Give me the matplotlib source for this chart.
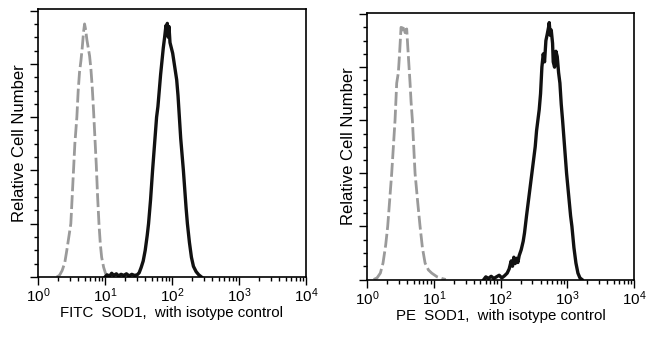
import numpy as np
import matplotlib
matplotlib.use("Agg")
import matplotlib.pyplot as plt
from matplotlib.ticker import MultipleLocator, LogLocator, NullFormatter

plt.rcParams['font.family'] = ['Liberation Sans', 'DejaVu Sans']
plt.rcParams['mathtext.fontset'] = 'custom'
plt.rcParams['mathtext.rm'] = 'Liberation Sans'
plt.rcParams['mathtext.it'] = 'Liberation Sans:italic'

# ---- data (log10 fluorescence, relative cell number) ----
fitc_iso_log = [0.28, 0.32, 0.36, 0.40, 0.43, 0.46, 0.49, 0.51, 0.53, 0.55, 0.58, 0.60, 0.62, 0.64,
                0.66, 0.68, 0.695, 0.71, 0.73, 0.75, 0.77, 0.79, 0.81, 0.83, 0.85, 0.87, 0.89, 0.91,
                0.93, 0.95, 0.98, 1.01, 1.05]
fitc_iso_val = [0.00, 0.03, 0.12, 0.27, 0.50, 0.75, 1.00, 1.50, 2.00, 2.50, 3.00, 3.50, 3.85, 4.05,
                4.30, 4.60, 4.75, 4.65, 4.45, 4.30, 4.15, 3.90, 3.55, 3.10, 2.60, 2.10, 1.50, 1.00,
                0.62, 0.37, 0.18, 0.06, 0.00]

fitc_sod1_log = [1.00, 1.03, 1.07, 1.10, 1.13, 1.17, 1.20, 1.24, 1.28, 1.32, 1.36, 1.40, 1.44, 1.48,
                 1.51, 1.54, 1.57, 1.60, 1.63, 1.65, 1.68, 1.71, 1.74, 1.77, 1.79, 1.81, 1.83, 1.85,
                 1.87, 1.89, 1.91, 1.92, 1.93, 1.945, 1.955, 1.97, 1.99, 2.01, 2.04, 2.07, 2.09, 2.11,
                 2.13, 2.15, 2.17, 2.19, 2.21, 2.23, 2.26, 2.29, 2.32, 2.36, 2.40, 2.44]
fitc_sod1_val = [0.00, 0.04, 0.02, 0.07, 0.03, 0.06, 0.02, 0.05, 0.03, 0.06, 0.02, 0.05, 0.03, 0.04,
                 0.08, 0.18, 0.30, 0.50, 0.78, 1.00, 1.45, 2.00, 2.50, 3.00, 3.20, 3.50, 3.80, 4.05,
                 4.30, 4.50, 4.72, 4.55, 4.76, 4.50, 4.70, 4.40, 4.30, 4.20, 3.95, 3.70, 3.40, 3.00,
                 2.60, 2.30, 2.00, 1.65, 1.30, 1.00, 0.65, 0.37, 0.20, 0.10, 0.04, 0.00]

pe_iso_log = [0.10, 0.15, 0.20, 0.24, 0.28, 0.31, 0.34, 0.37, 0.40, 0.42, 0.445, 0.47, 0.49, 0.51,
              0.53, 0.55, 0.57, 0.595, 0.61, 0.63, 0.645, 0.66, 0.68, 0.70, 0.72, 0.76, 0.795, 0.83,
              0.87, 0.92, 0.97, 1.05, 1.12, 1.18]
pe_iso_val = [0.00, 0.03, 0.12, 0.31, 0.65, 1.00, 1.50, 2.00, 2.60, 3.00, 3.70, 3.90, 4.30, 4.75,
              4.70, 4.78, 4.65, 4.72, 4.40, 4.00, 3.70, 3.35, 3.00, 2.50, 2.00, 1.45, 1.00, 0.60,
              0.31, 0.18, 0.12, 0.05, 0.02, 0.00]

pe_sod1_log = [1.75, 1.78, 1.82, 1.86, 1.90, 1.94, 1.98, 2.02, 2.06, 2.10, 2.13, 2.16, 2.18, 2.20,
               2.22, 2.24, 2.26, 2.28, 2.31, 2.34, 2.36, 2.39, 2.42, 2.45, 2.47, 2.50, 2.52, 2.54,
               2.56, 2.58, 2.60, 2.62, 2.64, 2.66, 2.68, 2.70, 2.72, 2.73, 2.745, 2.76, 2.78, 2.79,
               2.81, 2.83, 2.85, 2.87, 2.89, 2.91, 2.93, 2.96, 2.99, 3.02, 3.05, 3.07, 3.10, 3.13,
               3.16, 3.19, 3.22]
pe_sod1_val = [0.00, 0.05, 0.02, 0.06, 0.02, 0.05, 0.08, 0.03, 0.07, 0.12, 0.20, 0.35, 0.25, 0.42,
               0.30, 0.40, 0.32, 0.45, 0.56, 0.72, 0.88, 1.20, 1.50, 1.80, 2.00, 2.30, 2.50, 2.80,
               3.00, 3.20, 3.50, 4.00, 4.25, 4.10, 4.50, 4.62, 4.75, 4.84, 4.60, 4.70, 4.45, 4.10,
               4.00, 4.30, 4.20, 3.90, 3.70, 3.30, 3.00, 2.50, 2.00, 1.60, 1.20, 1.00, 0.60, 0.31,
               0.12, 0.03, 0.00]

x_labels = ["FITC  SOD1,  with isotype control", "PE  SOD1,  with isotype control"]
y_label = "Relative Cell Number"

fig = plt.figure(figsize=(6.5, 3.37), dpi=100)
ax1 = fig.add_axes([38/650, 1-277/337, 268/650, 268/337])
ax2 = fig.add_axes([367/650, 1-279.5/337, 267/650, 267/337])

panels = [(ax1, fitc_iso_log, fitc_iso_val, fitc_sod1_log, fitc_sod1_val, x_labels[0]),
          (ax2, pe_iso_log, pe_iso_val, pe_sod1_log, pe_sod1_val, x_labels[1])]

for ax, il, iv, sl, sv, xl in panels:
    ax.plot(10 ** np.array(il), iv, color='#9a9a9a', lw=2.0, dashes=(5, 1.4))
    ax.plot(10 ** np.array(sl), sv, color='#111111', lw=2.4)
    ax.set_xscale('log')
    ax.set_xlim(1, 1e4)
    ax.set_ylim(0, 5.03)
    ax.yaxis.set_major_locator(MultipleLocator(1))
    ax.yaxis.set_minor_locator(MultipleLocator(0.25))
    ax.yaxis.set_major_formatter(NullFormatter())
    ax.xaxis.set_major_locator(LogLocator(base=10, numticks=10))
    ax.xaxis.set_minor_locator(LogLocator(base=10, subs=np.arange(2, 10), numticks=20))
    ax.xaxis.set_minor_formatter(NullFormatter())
    ax.tick_params(axis='both', which='major', direction='out', length=5.5, width=1, labelsize=11, pad=1.5)
    ax.tick_params(axis='both', which='minor', direction='out', length=3, width=1)
    for s in ax.spines.values():
        s.set_linewidth(1.2)
    ax.set_xlabel(xl, fontsize=10.8, labelpad=0.5)
    ax.set_ylabel(y_label, fontsize=12, labelpad=1)

fig.savefig("out.png", dpi=100)
